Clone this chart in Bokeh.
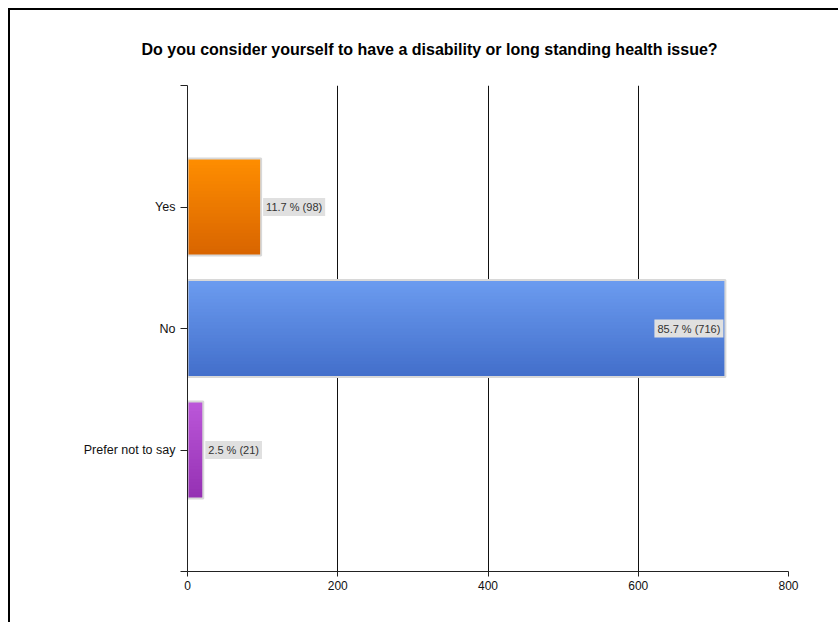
from bokeh.plotting import figure
from bokeh.models import (Range1d, FixedTicker, ColumnDataSource, LabelSet)
from bokeh.core.properties import value
from bokeh.embed import file_html
from bokeh.resources import INLINE

title_text = "Do you consider yourself to have a disability or long standing health issue?"
categories = ["Yes", "No", "Prefer not to say"]
counts = [98, 716, 21]
percents = [11.7, 85.7, 2.5]
x_ticks = [0, 200, 400, 600, 800]
top_colors = [(255, 142, 0), (108, 156, 240), (188, 88, 218)]
bottom_colors = [(216, 100, 0), (66, 110, 202), (148, 48, 178)]

BAR_H = 0.8
N_STRIPS = 30

p = figure(width=830, height=614, output_backend="svg", toolbar_location=None,
           x_range=Range1d(0, 800), y_range=Range1d(4, 0),
           min_border_left=177, min_border_right=52, min_border_top=75, min_border_bottom=53,
           styles={"margin-left": "8px", "margin-top": "8px",
                   "border-left": "2px solid black", "border-top": "2px solid black"})
p.outline_line_color = None
p.background_fill_color = "white"
p.border_fill_color = "white"

# title
p.title.text = title_text
p.title.align = "left"
p.title.offset = -46
p.title.text_font = "Liberation Sans"
p.title.text_font_style = "bold"
p.title.text_font_size = "16px"
p.title.text_color = "#000000"
p.title.standoff = 55

# gradient bars built from overlapping strips
tops, bottoms, rights, cols = [], [], [], []
for i, (c, t, b) in enumerate(zip(counts, top_colors, bottom_colors)):
    yc = i + 1
    y0 = yc - BAR_H / 2
    step = BAR_H / N_STRIPS
    for k in range(N_STRIPS):
        f = (k + 0.5) / N_STRIPS
        col = tuple(int(round(t[j] + (b[j] - t[j]) * f)) for j in range(3))
        tops.append(y0 + k * step)
        bottoms.append(min(y0 + (k + 1.6) * step, yc + BAR_H / 2))
        rights.append(c)
        cols.append("#%02x%02x%02x" % col)
strip_src = ColumnDataSource(dict(top=tops, bottom=bottoms, right=rights, c=cols))
p.quad(left=0, right="right", top="top", bottom="bottom", source=strip_src,
       fill_color="c", line_color=None)

bar_src = ColumnDataSource(dict(y=[i + 1 for i in range(len(categories))], right=counts))
p.hbar(y="y", left=0, right="right", height=BAR_H, source=bar_src,
       fill_color=None, line_color="#d8d8d8", line_width=2)

# value labels
labels = ["%s %% (%d)" % (pc, c) for pc, c in zip(percents, counts)]
out_idx = [i for i, c in enumerate(counts) if c < 400]
in_idx = [i for i, c in enumerate(counts) if c >= 400]
src_out = ColumnDataSource(dict(x=[counts[i] for i in out_idx], y=[i + 1 for i in out_idx],
                                t=[labels[i] for i in out_idx]))
src_in = ColumnDataSource(dict(x=[counts[i] for i in in_idx], y=[i + 1 for i in in_idx],
                               t=[labels[i] for i in in_idx]))
common = dict(text_font=value("Liberation Sans"), text_font_size=value("11px"),
              text_color="#333333", text_baseline="middle",
              background_fill_color="#e0e0e0", border_line_color="#e0e0e0",
              border_line_width=6, border_line_join="miter")
p.add_layout(LabelSet(x="x", y="y", text="t", source=src_out, text_align="left",
                      x_offset=5, **common))
p.add_layout(LabelSet(x="x", y="y", text="t", source=src_in, text_align="right",
                      x_offset=-5, **common))

# axes
p.xaxis.ticker = FixedTicker(ticks=x_ticks)
p.yaxis.ticker = FixedTicker(ticks=[0, 1, 2, 3, 4])
overrides = {0: "", 4: ""}
for i, cat in enumerate(categories):
    overrides[i + 1] = cat
p.yaxis.major_label_overrides = overrides
for ax in (p.xaxis, p.yaxis):
    ax.axis_line_color = "#222222"
    ax.major_tick_line_color = "#222222"
    ax.minor_tick_line_color = None
    ax.major_tick_out = 7
    ax.major_tick_in = 0
    ax.major_label_text_font = "Liberation Sans"
    ax.major_label_text_font_size = "12px"
    ax.major_label_text_color = "#111111"
    ax.major_label_standoff = 4
p.xaxis.major_tick_out = 5
p.yaxis.major_label_text_font_size = "12.5px"
p.yaxis.major_label_standoff = 5

p.ygrid.grid_line_color = None
p.xgrid.ticker = FixedTicker(ticks=x_ticks)
p.xgrid.grid_line_color = "#111111"
p.xgrid.grid_line_alpha = 1.0

open("out.html", "w").write(file_html(p, INLINE))
